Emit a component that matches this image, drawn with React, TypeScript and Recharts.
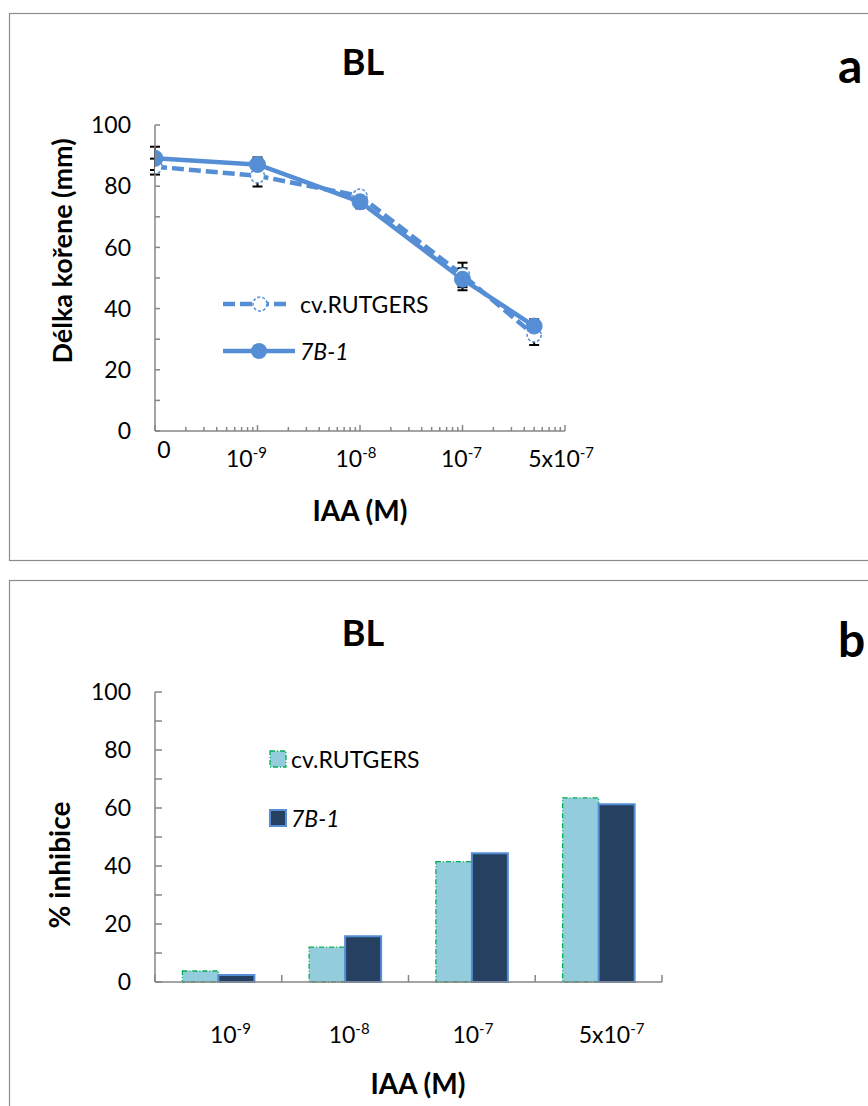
import React from 'react';
import { LineChart, Line, XAxis, YAxis, ErrorBar, Legend, BarChart, Bar } from 'recharts';

// ---------- data ----------
const concLabels = ['0', '10^-9', '10^-8', '10^-7', '5x10^-7'];
// "0" is drawn at the origin of the log axis (1e-10)
const concPositions = [1e-10, 1e-9, 1e-8, 1e-7, 5e-7];
const rutgersLength = [86.4, 83.4, 76.8, 51.0, 31.4];
const rutgersErr = [2.6, 3.5, 1.5, 4.0, 3.3];
const b71Length = [89.1, 87.1, 74.9, 49.6, 34.3];
const b71Err = [3.8, 2.3, 2.1, 3.6, 2.2];

const barCategories = ['10^-9', '10^-8', '10^-7', '5x10^-7'];
const rutgersInhib = [3.8, 12.0, 41.5, 63.5];
const b71Inhib = [2.4, 15.8, 44.4, 61.3];

const yTicks = [0, 10, 20, 30, 40, 50, 60, 70, 80, 90, 100];
const logDecades = [1e-10, 1e-9, 1e-8, 1e-7];
const logMultipliers = [1, 2, 3, 4, 5, 6, 7, 8, 9];
const logTicks = [...logDecades.flatMap((d) => logMultipliers.map((m) => m * d)), 1e-6];

const seriesNames = ['cv.RUTGERS', '7B-1'];

// ---------- styles ----------
const FONT = "Lato, 'Open Sans', sans-serif";
const AXIS = '#868686';
const LINE = '#558ED5';
const BAR1 = '#93CDDD';
const BAR1_EDGE = '#00B050';
const BAR2 = '#254061';
const BAR2_EDGE = '#558ED5';

const lineData = concPositions.map((x, i) => ({
  x,
  label: concLabels[i],
  rut: rutgersLength[i],
  rutErr: rutgersErr[i],
  b71: b71Length[i],
  b71Err: b71Err[i],
}));

const barData = barCategories.map((c, i) => ({ cat: c, rut: rutgersInhib[i], b71: b71Inhib[i] }));

function SupText({ x, y, text, size = 23 }: { x: number; y: number; text: string; size?: number }) {
  const [base, exp] = text.split('^');
  return (
    <text x={x} y={y} textAnchor="middle" fontSize={size} fontFamily={FONT} fontWeight={400} fill="#000">
      {base}
      {exp !== undefined && (
        <tspan dy={-9} fontSize={15}>
          {exp}
        </tspan>
      )}
    </text>
  );
}

const makeYTick = (len: number) => (props: any) => {
  const { x, y, payload } = props;
  const v = payload.value;
  return (
    <g>
      <line x1={x} x2={x + len} y1={y} y2={y} stroke={AXIS} strokeWidth={1.5} />
      {v % 20 === 0 && (
        <text x={x - 24} y={y} dy="0.36em" textAnchor="end" fontSize={23} fontFamily={FONT} fill="#000">
          {v}
        </text>
      )}
    </g>
  );
};

const topLabelDx: Record<string, number> = { '0': 9, '10^-9': -11, '10^-8': -4, '10^-7': -1, '5x10^-7': 27 };

const LogTick = (props: any) => {
  const { x, y, payload } = props;
  const v = payload.value as number;
  const idx = concPositions.findIndex((p) => Math.abs(p - v) / p < 1e-6);
  const isDecade = logDecades.some((d) => Math.abs(d - v) / d < 1e-6) || Math.abs(v - 1e-6) < 1e-12;
  const lbl = idx >= 0 ? concLabels[idx] : null;
  return (
    <g>
      <line x1={x} x2={x} y1={y} y2={y - (isDecade ? 6 : 4)} stroke={AXIS} strokeWidth={1.5} />
      {lbl && <SupText x={x + topLabelDx[lbl]} y={y + (lbl === '0' ? 27 : 36)} text={lbl} />}
    </g>
  );
};

const bottomLabelDx: Record<string, number> = { '10^-9': 12, '10^-8': 4, '10^-7': 1, '5x10^-7': 13 };

const BarTick = (props: any) => {
  const { x, y, payload, width, visibleTicksCount, index } = props;
  const half = typeof width === 'number' && visibleTicksCount ? width / visibleTicksCount / 2 : 0;
  const lbl = payload.value as string;
  return (
    <g>
      {half > 0 && <line x1={x + half} x2={x + half} y1={y} y2={y - 7} stroke={AXIS} strokeWidth={1.5} />}
      {half > 0 && index === 0 && <line x1={x - half} x2={x - half} y1={y} y2={y - 7} stroke={AXIS} strokeWidth={1.5} />}
      <SupText x={x + (bottomLabelDx[lbl] ?? 0)} y={y + 61} text={lbl} />
    </g>
  );
};

const LineLegend = () => (
  <div style={{ fontFamily: FONT, fontSize: 23, color: '#000' }}>
    <div style={{ display: 'flex', alignItems: 'center', height: 24, marginBottom: 23 }}>
      <svg width={77} height={24}>
        <line x1={0} x2={64} y1={12} y2={12} stroke={LINE} strokeWidth={4.5} strokeDasharray="12 5" />
        <circle cx={37} cy={12} r={7} fill="#fff" stroke={LINE} strokeWidth={1.5} strokeDasharray="3 2" />
      </svg>
      <span>{seriesNames[0]}</span>
    </div>
    <div style={{ display: 'flex', alignItems: 'center', height: 24 }}>
      <svg width={77} height={24}>
        <line x1={0} x2={72} y1={12} y2={12} stroke={LINE} strokeWidth={4.5} />
        <circle cx={36} cy={12} r={8} fill={LINE} />
      </svg>
      <span style={{ fontStyle: 'italic' }}>{seriesNames[1]}</span>
    </div>
  </div>
);

const BarLegend = () => (
  <div style={{ fontFamily: FONT, fontSize: 23, color: '#000' }}>
    <div style={{ display: 'flex', alignItems: 'center', height: 24, marginBottom: 35 }}>
      <svg width={22} height={24}>
        <rect x={1} y={4} width={16} height={16} fill={BAR1} stroke={BAR1_EDGE} strokeWidth={1.3} strokeDasharray="5 2 1 2" />
      </svg>
      <span>{seriesNames[0]}</span>
    </div>
    <div style={{ display: 'flex', alignItems: 'center', height: 24 }}>
      <svg width={22} height={24}>
        <rect x={1} y={4} width={16} height={16} fill={BAR2} stroke={BAR2_EDGE} strokeWidth={2} />
      </svg>
      <span style={{ fontStyle: 'italic' }}>{seriesNames[1]}</span>
    </div>
  </div>
);

export default function App() {
  return (
    <div style={{ position: 'absolute', left: 0, top: 0, width: 868, height: 1106, background: '#fff', overflow: 'hidden' }}>
      <svg width={868} height={1106} style={{ position: 'absolute', left: 0, top: 0 }}>
        <rect x={9.5} y={13.5} width={900} height={547} fill="none" stroke="#8c8c8c" strokeWidth={1.2} />
        <rect x={9.5} y={580.5} width={900} height={600} fill="none" stroke="#8c8c8c" strokeWidth={1.2} />
        {/* panel a texts */}
        <text x={363} y={75} textAnchor="middle" fontSize={36} fontWeight={700} fontFamily={FONT}>BL</text>
        <text x={838} y={83} fontSize={48} fontWeight={700} fontFamily={FONT}>a</text>
        <text x={360} y={521} textAnchor="middle" fontSize={28} fontWeight={700} fontFamily={FONT}>IAA (M)</text>
        <text x={0} y={0} transform="translate(72,251) rotate(-90)" textAnchor="middle" fontSize={27} fontWeight={700} fontFamily={FONT}>
          Délka kořene (mm)
        </text>
        {/* panel b texts */}
        <text x={363} y={646} textAnchor="middle" fontSize={36} fontWeight={700} fontFamily={FONT}>BL</text>
        <text x={838} y={657} fontSize={48} fontWeight={700} fontFamily={FONT}>b</text>
        <text x={418} y={1094} textAnchor="middle" fontSize={28} fontWeight={700} fontFamily={FONT}>IAA (M)</text>
        <text x={0} y={0} transform="translate(70,865) rotate(-90)" textAnchor="middle" fontSize={28} fontWeight={700} fontFamily={FONT}>
          % inhibice
        </text>
      </svg>

      <div style={{ position: 'absolute', left: 0, top: 0 }}>
        <LineChart width={868} height={560} data={lineData} margin={{ top: 125, left: 154, right: 303, bottom: 128 }}>
          <XAxis
            dataKey="x"
            type="number"
            scale="log"
            domain={[1e-10, 1e-6]}
            allowDataOverflow
            ticks={logTicks}
            interval={0}
            height={1}
            tickSize={0}
            tickMargin={0}
            tickLine={false}
            axisLine={{ stroke: AXIS, strokeWidth: 1.5 }}
            tick={LogTick}
          />
          <YAxis
            type="number"
            domain={[0, 100]}
            ticks={yTicks}
            interval={0}
            width={1}
            tickSize={0}
            tickMargin={0}
            tickLine={false}
            axisLine={{ stroke: AXIS, strokeWidth: 1.5 }}
            tick={makeYTick(5)}
          />
          <Legend layout="vertical" align="center" verticalAlign="middle" wrapperStyle={{ left: 223, top: 292, width: 260 }} content={LineLegend} />
          <Line
            dataKey="rut"
            name={seriesNames[0]}
            stroke={LINE}
            strokeWidth={4.5}
            strokeDasharray="12 5"
            isAnimationActive={false}
            dot={{ r: 7, fill: '#fff', stroke: LINE, strokeWidth: 1.5, strokeDasharray: '3 2' }}
          >
            <ErrorBar dataKey="rutErr" direction="y" width={5} stroke="#000" strokeWidth={2} />
          </Line>
          <Line
            dataKey="b71"
            name={seriesNames[1]}
            stroke={LINE}
            strokeWidth={4.5}
            isAnimationActive={false}
            dot={{ r: 8, fill: LINE, stroke: LINE, strokeWidth: 1 }}
          >
            <ErrorBar dataKey="b71Err" direction="y" width={5} stroke="#000" strokeWidth={2} />
          </Line>
        </LineChart>
      </div>

      <div style={{ position: 'absolute', left: 0, top: 560 }}>
        <BarChart
          width={868}
          height={546}
          data={barData}
          margin={{ top: 132, left: 154, right: 206, bottom: 123 }}
          barCategoryGap="21.6%"
          barGap={0}
        >
          <XAxis
            dataKey="cat"
            type="category"
            height={1}
            tickSize={0}
            tickMargin={0}
            tickLine={false}
            interval={0}
            axisLine={{ stroke: AXIS, strokeWidth: 1.5 }}
            tick={BarTick}
          />
          <YAxis
            type="number"
            domain={[0, 100]}
            ticks={yTicks}
            interval={0}
            width={1}
            tickSize={0}
            tickMargin={0}
            tickLine={false}
            axisLine={{ stroke: AXIS, strokeWidth: 1.5 }}
            tick={makeYTick(7)}
          />
          <Legend layout="vertical" align="center" verticalAlign="middle" wrapperStyle={{ left: 269, top: 187, width: 200 }} content={BarLegend} />
          <Bar dataKey="rut" name={seriesNames[0]} fill={BAR1} stroke={BAR1_EDGE} strokeWidth={1.3} strokeDasharray="5 2 1 2" isAnimationActive={false} />
          <Bar dataKey="b71" name={seriesNames[1]} fill={BAR2} stroke={BAR2_EDGE} strokeWidth={2} isAnimationActive={false} />
        </BarChart>
      </div>
    </div>
  );
}
